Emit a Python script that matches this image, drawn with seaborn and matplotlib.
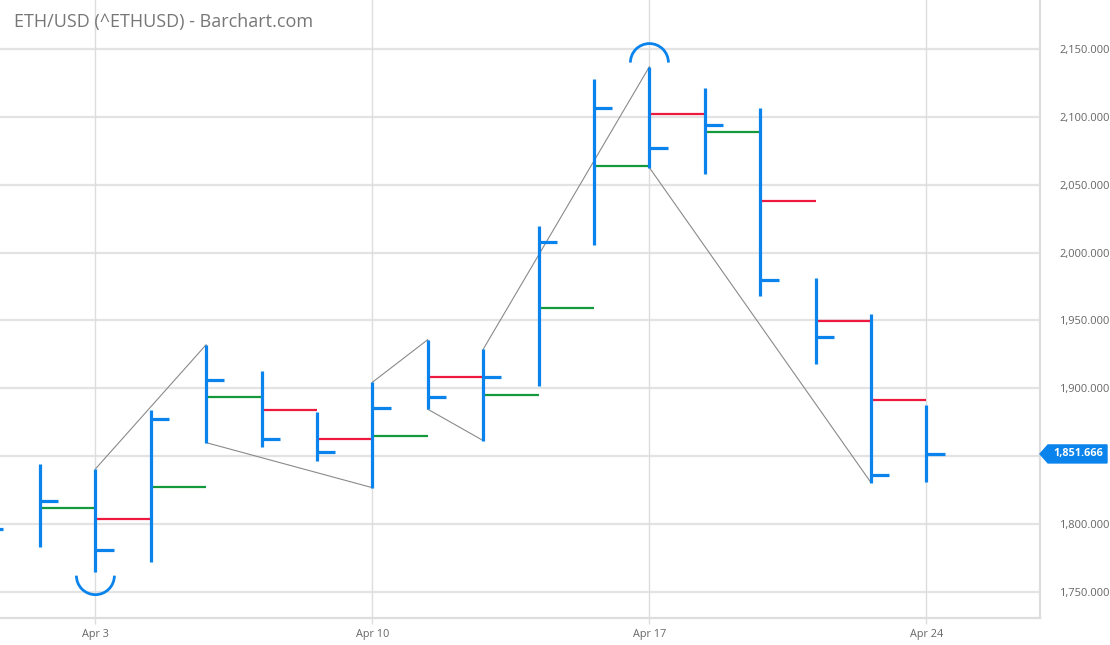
import numpy as np
import pandas as pd
import seaborn as sns
import matplotlib.pyplot as plt
from matplotlib.patches import Arc, Polygon
from matplotlib.transforms import blended_transform_factory

# bar positions (trading-day index), -1 is the half-hidden bar at the left edge
bar_idx = list(range(-1, 17))
highs = [1805.0, 1844.3, 1840.6, 1884.1, 1932.2, 1913.0, 1882.4, 1904.5, 1935.9,
         1928.8, 2019.8, 2127.9, 2137.0, 2121.5, 2106.8, 1981.1, 1954.6, 1887.8]
lows = [1788.0, 1783.1, 1764.5, 1771.9, 1860.0, 1856.8, 1846.5, 1826.8, 1884.6,
        1861.5, 1901.7, 2005.6, 2062.6, 2057.7, 1968.0, 1918.0, 1830.5, 1831.3]
closes = [1796.4, 1817.3, 1780.7, 1877.4, 1906.2, 1862.7, 1853.4, 1885.5, 1893.9,
          1908.2, 2007.6, 2106.8, 2077.3, 2093.8, 1979.8, 1937.6, 1836.2, 1851.666]

# open levels drawn as segments from bar i to bar i+1 (bars 0..15)
open_idx = list(range(0, 16))
opens = [1812.1, 1803.6, 1827.6, 1893.9, 1884.3, 1862.5, 1865.1, 1908.6,
         1895.3, 1959.4, 2064.0, 2102.3, 2089.1, 2038.3, 1949.4, 1891.2]

# zigzag swing points
zz_idx = [1, 3, 3, 6, 6, 7, 7, 8, 8, 11, 11, 15]
zz_val = [1840.6, 1932.2, 1860.0, 1826.8, 1904.5, 1935.9, 1884.6, 1861.5,
          1928.8, 2137.0, 2062.6, 1830.5]

tick_pos = [1, 6, 11, 16]
tick_labels = ['Apr 3', 'Apr 10', 'Apr 17', 'Apr 24']
grid_y = [1750, 1800, 1850, 1900, 1950, 2000, 2050, 2100, 2150]
# 1,850 label is hidden behind the last-price tag
y_ticks = [1750, 1800, 1900, 1950, 2000, 2050, 2100, 2150]

blue = '#0a84ec'
green = '#149a3c'
red = '#ee1a3e'

sns.set_theme(style='white')
plt.rcParams['font.family'] = ['Open Sans', 'DejaVu Sans']

fig = plt.figure(figsize=(11.1, 6.45), dpi=100)
ax = fig.add_axes([0, 27 / 645, 1040 / 1110, 618 / 645])

df = pd.DataFrame({'idx': bar_idx, 'high': highs, 'low': lows, 'close': closes})

# grid
for v in grid_y:
    ax.axhline(v, color='#e3e3e3', lw=1.6, zorder=0)
for p in tick_pos:
    ax.axvline(p, color='#dddddd', lw=1.0, zorder=0)

# zigzag
zz = pd.DataFrame({'idx': zz_idx, 'val': zz_val})
sns.lineplot(data=zz, x='idx', y='val', sort=False, estimator=None, errorbar=None,
             color='#8a8a8a', lw=0.8, ax=ax, zorder=2)

# open segments
op = pd.DataFrame({'idx': open_idx, 'open': opens})
op['close'] = [closes[bar_idx.index(i)] for i in open_idx]
seg_colors = [green if c > o else red for c, o in zip(op['close'], op['open'])]
ax.hlines(op['open'], op['idx'], op['idx'] + 1, colors=seg_colors, lw=1.6, zorder=3)

# HLC bars
ax.vlines(df['idx'], df['low'], df['high'], colors=blue, lw=2.3, zorder=4)
ax.hlines(df['close'], df['idx'], df['idx'] + 0.33, colors=blue, lw=2.3, zorder=4)

# high / low markers
i_hi = int(np.argmax(highs))
i_lo = int(np.argmin(lows))
aw = 38 / 55.4
ah = 38 / 1.3575
ax.add_patch(Arc((bar_idx[i_hi], highs[i_hi] + 3), aw, ah, theta1=0, theta2=180,
                 color=blue, lw=2.0, zorder=5))
ax.add_patch(Arc((bar_idx[i_lo], lows[i_lo] - 2.5), aw, ah, theta1=180, theta2=360,
                 color=blue, lw=2.0, zorder=5))

ax.set_xlim(-0.722, 18.05)
ax.set_ylim(1730.8, 2186.1)

ax.set_xticks(tick_pos)
ax.set_xticklabels(tick_labels)
ax.yaxis.tick_right()
ax.set_yticks(y_ticks)
ax.set_yticklabels([f'{v:,.3f}' for v in y_ticks])
ax.tick_params(axis='x', length=4, width=1, color='#dddddd', labelsize=7.8,
               labelcolor='#666666', pad=4, direction='out', bottom=True)
ax.tick_params(axis='y', length=0, labelsize=8, labelcolor='#666666', pad=14)
ax.set_xlabel('')
ax.set_ylabel('')

for s in ['left', 'top']:
    ax.spines[s].set_visible(False)
for s in ['right', 'bottom']:
    ax.spines[s].set_color('#dddddd')
    ax.spines[s].set_linewidth(1.6)

# last price tag
last = closes[-1]
tr = blended_transform_factory(ax.transAxes, ax.transData)
dy = 9 / 1.3575
tag = Polygon([(1.0, last), (1 + 8 / 1040, last + dy), (1 + 67 / 1040, last + dy),
               (1 + 67 / 1040, last - dy), (1 + 8 / 1040, last - dy)],
              closed=True, transform=tr, clip_on=False, color=blue, zorder=6)
ax.add_patch(tag)
ax.text(1 + 38 / 1040, last, f'{last:,.3f}', transform=tr, ha='center', va='center',
        color='white', fontsize=7.8, fontweight='bold', clip_on=False, zorder=7)

fig.text(14 / 1110, 1 - 22 / 645, 'ETH/USD (^ETHUSD) - Barchart.com', color='#777777',
         fontsize=13, ha='left', va='center')

fig.savefig('out.png', dpi=100)
